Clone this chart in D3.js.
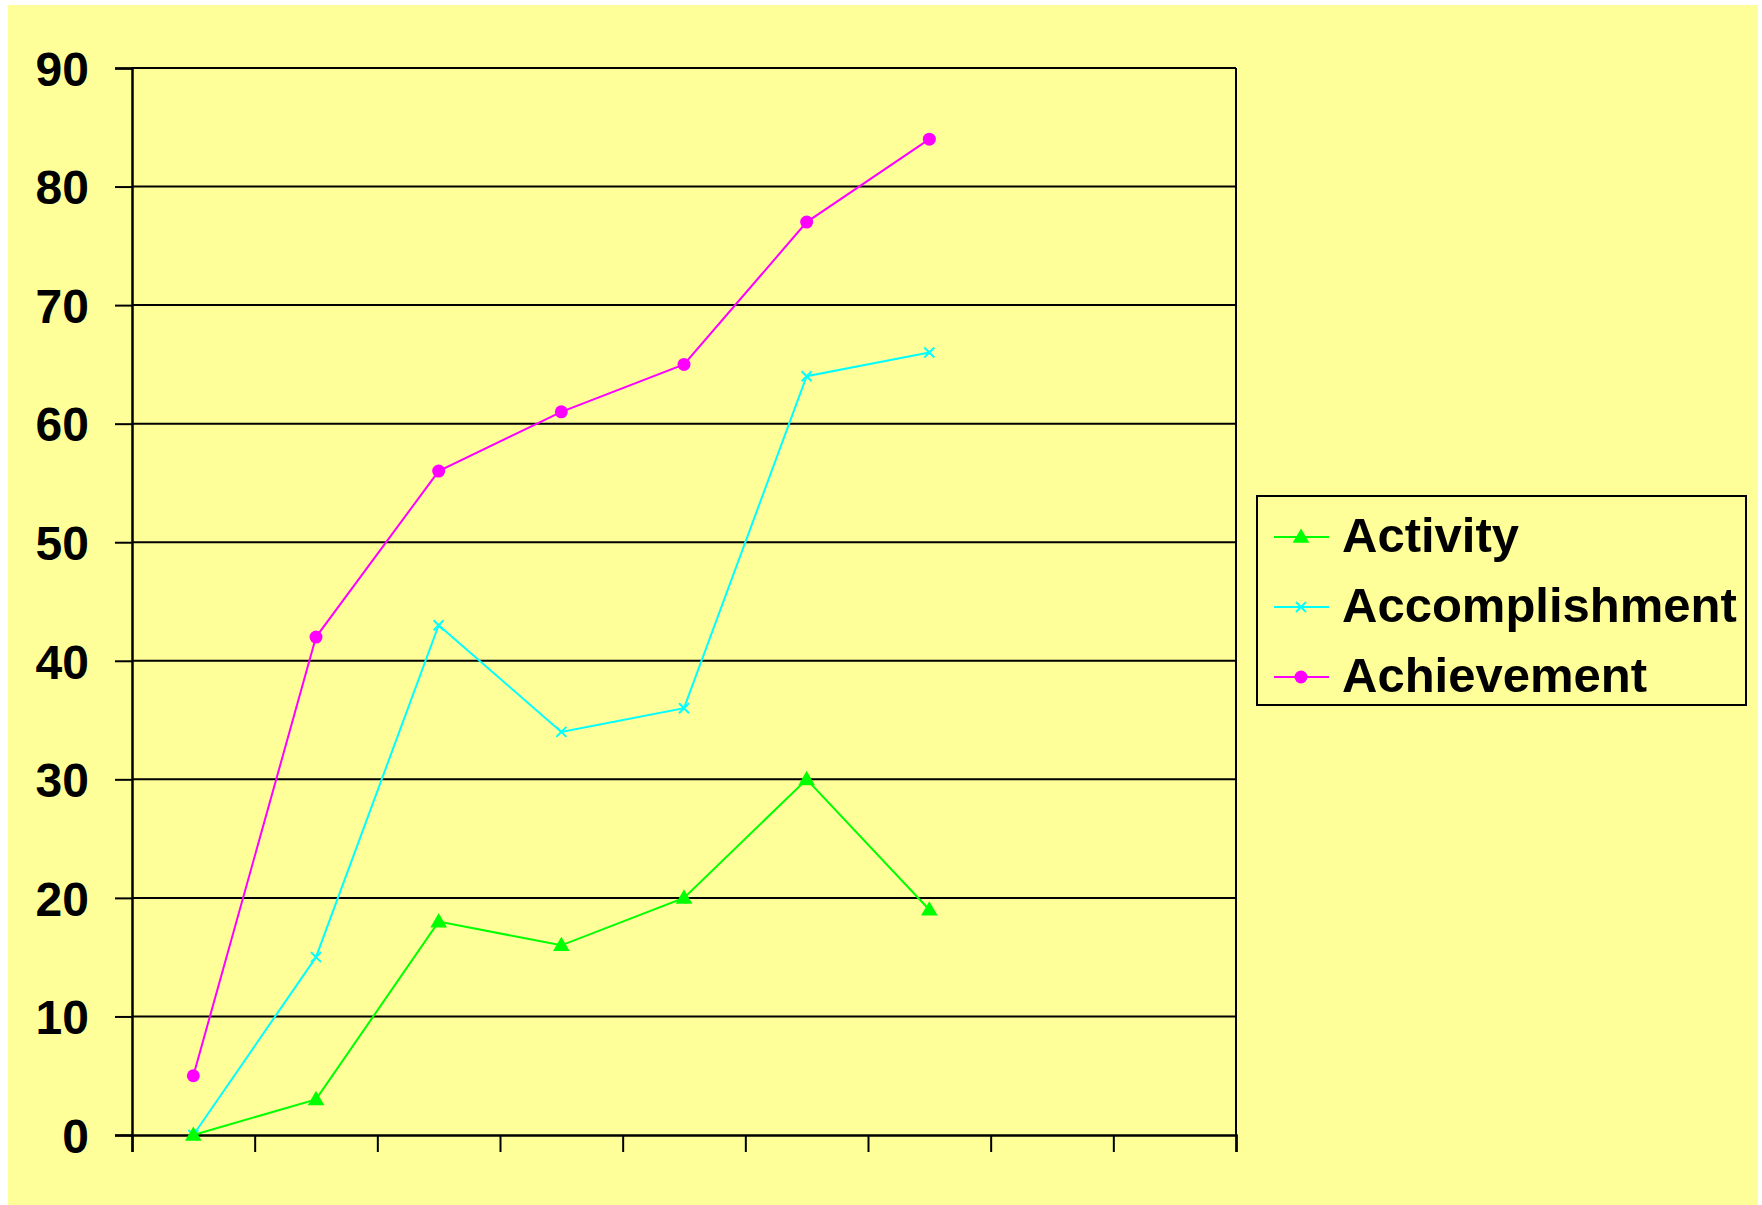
<!DOCTYPE html>
<html><head><meta charset="utf-8">
<script src="https://cdn.jsdelivr.net/npm/d3@7"></script>
<style>
html,body{margin:0;padding:0;background:#fff;}
svg{display:block;}
text{font-family:"Liberation Sans",Arial,sans-serif;font-weight:bold;}
</style></head>
<body>
<script>
const categories = ["1","2","3","4","5","6","7","8","9"];
const seriesNames = ["Activity","Accomplishment","Achievement"];
const activity = [0,3,18,16,20,30,19];
const accomplishment = [0,15,43,34,36,64,66];
const achievement = [5,42,56,61,65,77,84];
const yTicks = [0,10,20,30,40,50,60,70,80,90];

const W=1762,H=1205;
const svg=d3.select("body").append("svg").attr("width",W).attr("height",H);
svg.append("rect").attr("x",8).attr("y",5).attr("width",1750).attr("height",1200).attr("fill","#FFFF99");

const L=132,R=1236,T=68,B=1135;
const x=d3.scaleLinear().domain([0,categories.length]).range([L,R]);
const y=d3.scaleLinear().domain([0,90]).range([B,T]);

// gridlines
const g=svg.append("g");
g.selectAll("line.grid").data(yTicks.filter(d=>d>0)).join("line")
 .attr("x1",L).attr("x2",R).attr("y1",d=>y(d)).attr("y2",d=>y(d))
 .attr("stroke","#000").attr("stroke-width",2);
// right border
g.append("line").attr("x1",R).attr("x2",R).attr("y1",T).attr("y2",B).attr("stroke","#000").attr("stroke-width",2);

// y axis
const ya=svg.append("g").attr("transform",`translate(${L},0)`)
 .call(d3.axisLeft(y).tickValues(yTicks).tickSize(17).tickPadding(26));
ya.select(".domain").attr("stroke","#000").attr("stroke-width",2.5);
ya.selectAll(".tick line").attr("stroke","#000").attr("stroke-width",2);
ya.selectAll(".tick text").attr("font-size",48).attr("fill","#000")
 .attr("font-family","'Liberation Sans',Arial,sans-serif").attr("font-weight","bold").attr("dy","0.36em");

// x axis
const xa=svg.append("g").attr("transform",`translate(0,${B})`)
 .call(d3.axisBottom(x).tickValues(d3.range(categories.length+1)).tickSize(17).tickFormat(""));
xa.select(".domain").attr("stroke","#000").attr("stroke-width",2.5);
xa.selectAll(".tick line").attr("stroke","#000").attr("stroke-width",2);

const cx=i=>x(i+0.5);
const series=[
 {name:seriesNames[0],data:activity,color:"#00FF00",marker:"tri"},
 {name:seriesNames[1],data:accomplishment,color:"#00FFFF",marker:"x"},
 {name:seriesNames[2],data:achievement,color:"#FF00FF",marker:"circ"}
];
const line=d3.line().x((d,i)=>cx(i)).y(d=>y(d));

function drawMarker(sel,type,color,px,py){
 if(type==="tri"){
   sel.append("path").attr("d",d3.symbol(d3.symbolTriangle,120)()).attr("transform",`translate(${px},${py+1})`).attr("fill",color);
 } else if(type==="x"){
   const s=5;
   sel.append("path").attr("d",`M${px-s},${py-s}L${px+s},${py+s}M${px-s},${py+s}L${px+s},${py-s}`).attr("stroke",color).attr("stroke-width",2);
 } else {
   sel.append("circle").attr("cx",px).attr("cy",py).attr("r",6.5).attr("fill",color);
 }
}

[series[2],series[1],series[0]].forEach(s=>{
 const gg=svg.append("g");
 gg.append("path").datum(s.data).attr("d",line).attr("fill","none").attr("stroke",s.color).attr("stroke-width",2);
 s.data.forEach((v,i)=>drawMarker(gg,s.marker,s.color,cx(i),y(v)));
});

// legend
const lg=svg.append("g");
lg.append("rect").attr("x",1257).attr("y",496).attr("width",489).attr("height",209)
 .attr("fill","#FFFF99").attr("stroke","#000").attr("stroke-width",2);
series.forEach((s,i)=>{
 const cy=537+i*70;
 lg.append("line").attr("x1",1274).attr("x2",1329).attr("y1",cy).attr("y2",cy).attr("stroke",s.color).attr("stroke-width",2);
 drawMarker(lg,s.marker,s.color,1301,cy);
 lg.append("text").attr("x",1342).attr("y",cy+15).attr("font-size",49).attr("fill","#000").text(s.name);
});
</script>
</body></html>
